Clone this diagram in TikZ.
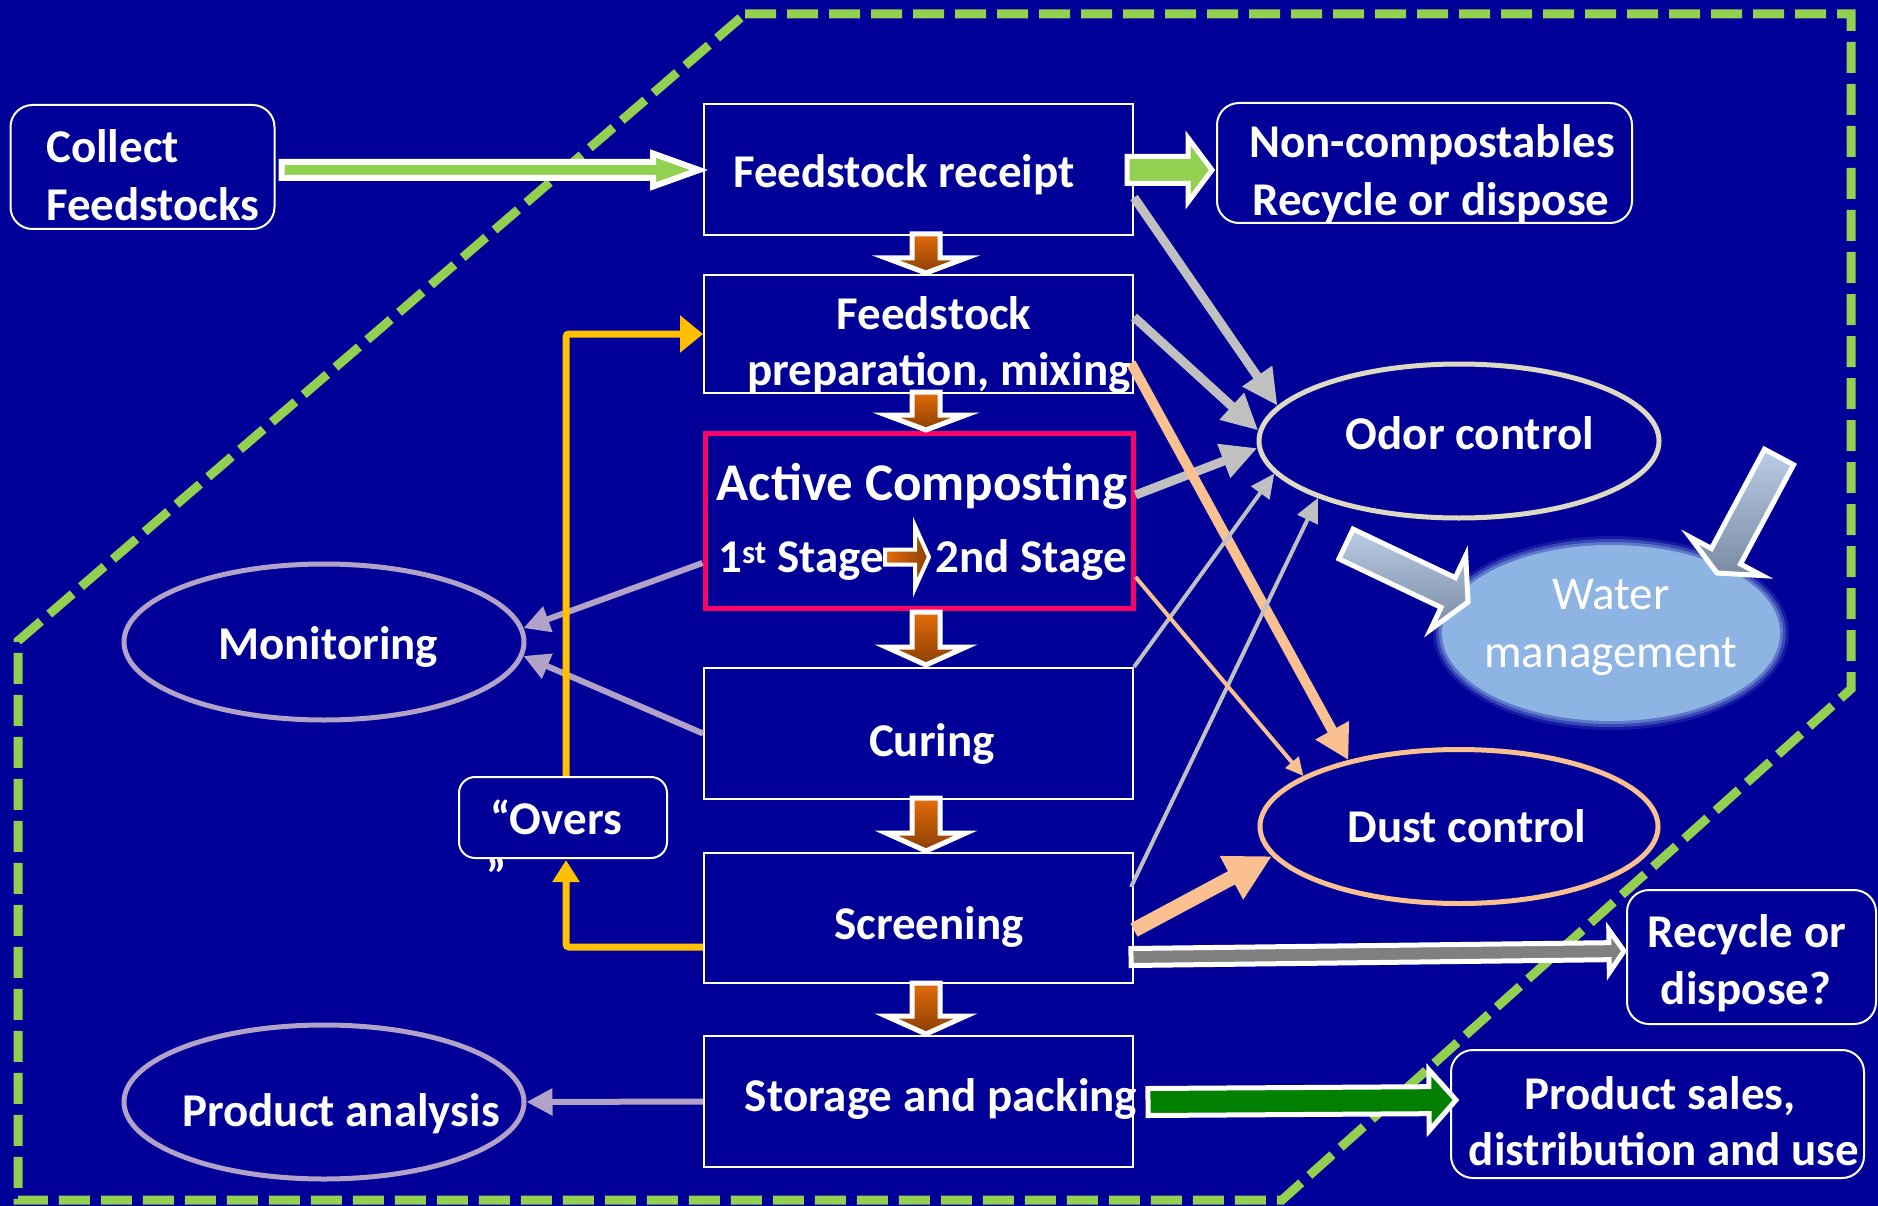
\documentclass[tikz,border=0pt]{standalone}
\usepackage{fontspec}
\setmainfont{Carlito}
\usetikzlibrary{arrows.meta,calc,shapes.geometric}
\definecolor{bg}{HTML}{000099}
\definecolor{lgreen}{HTML}{92D050}
\definecolor{dgreen}{HTML}{008000}
\definecolor{redb}{HTML}{FF0066}
\definecolor{cOran}{HTML}{E46C0A}
\definecolor{cBrown}{HTML}{8B3F06}
\definecolor{cOdor}{HTML}{DDD9C3}
\definecolor{cPeach}{HTML}{FAC090}
\definecolor{cLav}{HTML}{B3A2C7}
\definecolor{cGrayL}{HTML}{C0C0C0}
\definecolor{cYel}{HTML}{FFC000}
\definecolor{cGrayA}{HTML}{808080}
\definecolor{cWater}{HTML}{8EB4E3}
\definecolor{cWA1}{HTML}{B9CDE5}
\definecolor{cWA2}{HTML}{7A8AA3}
% block arrow: #1 style, #2 from, #3 to, #4 half shaft, #5 half head, #6 head length
\newcommand\blockarrow[6]{%
  \coordinate (baQ) at ($(#3)!#6!(#2)$);
  \draw[#1] ($(#2)!#4!90:(#3)$) -- ($(baQ)!#4!90:(#3)$) -- ($(baQ)!#5!90:(#3)$) -- (#3)
    -- ($(baQ)!#5!-90:(#3)$) -- ($(baQ)!#4!-90:(#3)$) -- ($(#2)!#4!-90:(#3)$) -- cycle;
}
\begin{document}
\begin{tikzpicture}[x=1pt,y=-1pt,
  sqbox/.style={draw=white, line width=2pt, fill=bg, inner sep=0pt},
  rbox/.style={sqbox, rounded corners=22pt},
  oval/.style={ellipse, line width=5pt, fill=bg, inner sep=0pt},
  lbl/.style={text=white, font=\bfseries\fontsize{47pt}{56pt}\selectfont, inner sep=0pt, anchor=base},
  gline/.style={draw=cGrayL, line width=9pt, -{Triangle[length=36pt,width=34pt]}},
  gthin/.style={draw=cGrayL, line width=4pt, -{Triangle[length=24pt,width=22pt]}},
  pthick/.style={draw=cPeach, line width=10pt, -{Triangle[length=34pt,width=36pt]}},
  pthin/.style={draw=cPeach, line width=4pt, -{Triangle[length=18pt,width=17pt]}},
  pfat/.style={draw=cPeach, line width=15pt, -{Triangle[length=46pt,width=46pt]}},
  lav/.style={draw=cLav, line width=6pt, -{Triangle[length=26pt,width=26pt]}},
  yel/.style={draw=cYel, line width=7pt, rounded corners=3pt},
  dashborder/.style={draw=lgreen, line width=9pt, dash pattern=on 31pt off 11pt},
  blkgreen/.style={draw=white, line width=6pt, fill=lgreen},
  blkgreen2/.style={draw=white, line width=5pt, fill=lgreen},
  blkdark/.style={draw=white, line width=5pt, fill=dgreen},
  blkgray/.style={draw=white, line width=5pt, fill=cGrayA},
  blkorange/.style={draw=white, line width=5pt, top color=cOran, bottom color=cBrown},
  blkstage/.style={draw=white, line width=4pt, left color=cOran, right color=cBrown},
  blkwater/.style={draw=white, line width=5pt, top color=cWA1, bottom color=cWA2}
]
\useasboundingbox (0,0) rectangle (1878,1206);
\fill[bg] (0,0) rectangle (1878,1206);

% dashed border
\draw[dashborder] (745,14) -- (1851,14) -- (1851,689) -- (1282,1200) -- (18,1200) -- (18,641) -- cycle;

% water management halo + node
\fill[cWater, opacity=0.15] (1611,633) ellipse [x radius=178, y radius=97];
\fill[cWater, opacity=0.3] (1611,633) ellipse [x radius=175, y radius=94];
\fill[cWater, opacity=0.45] (1611,633) ellipse [x radius=172, y radius=91];
\node[ellipse, fill=cWater, inner sep=0pt, minimum width=338pt, minimum height=176pt] (water) at (1611,633) {};

% boxes
\node[rbox, minimum width=264pt, minimum height=124pt] (collect) at (142.5,167) {};
\node[sqbox, minimum width=429pt, minimum height=131pt] (recv) at (918.5,169.5) {};
\node[rbox, minimum width=415pt, minimum height=120pt] (noncomp) at (1424.5,163) {};
\node[sqbox, minimum width=429pt, minimum height=118pt] (prep) at (918.5,334) {};
\node[sqbox, draw=redb, line width=5pt, minimum width=428pt, minimum height=175pt] (active) at (919,521) {};
\node[sqbox, minimum width=429pt, minimum height=131pt] (curing) at (918.5,733.5) {};
\node[sqbox, minimum width=429pt, minimum height=130pt] (screen) at (918.5,918) {};
\node[sqbox, minimum width=429pt, minimum height=131pt] (storage) at (918.5,1101.5) {};
\node[rbox, rounded corners=16pt, minimum width=208pt, minimum height=81pt] (overs) at (563,817.5) {};
\node[rbox, minimum width=249pt, minimum height=134pt] (recyc) at (1751.5,957) {};
\node[rbox, minimum width=413pt, minimum height=128pt] (sales) at (1657.5,1114) {};

% ellipses
\node[oval, draw=cLav, minimum width=400pt, minimum height=156pt] (monit) at (324,642) {};
\node[oval, draw=cLav, minimum width=400pt, minimum height=154pt] (prodan) at (324,1102) {};
\node[oval, draw=cOdor, minimum width=400pt, minimum height=154pt] (odor) at (1459,441) {};
\node[oval, draw=cPeach, minimum width=398pt, minimum height=154pt] (dust) at (1459,826.5) {};

% gray lines to odor control
\draw[gline] ($(recv.east)+(0,28)$) -- (odor.169);
\draw[gline] ($(prep.east)+(0,-17)$) -- (odor.177);
\draw[gline] ($(active.east)+(0,-26)$) -- (odor.182);
% peach lines to dust control
\draw[pthick] ($(prep.east)+(-3,29)$) -- (dust.149);
\draw[gthin] (curing.north east) -- (odor.190);
\draw[gthin] ($(screen.north east)+(-3,35)$) -- (odor.202);
\draw[pthin] ($(active.east)+(0,56)$) -- (dust.162);
\draw[pfat] ($(screen.east)+(0,12)$) -- (dust.189);

% lavender arrows to monitoring / product analysis
\draw[lav] ($(active.west)+(0,42)$) -- (monit.4);
\draw[lav] (curing.west) -- (monit.356);
\draw[lav] (storage.west) -- (prodan.east);

% yellow "overs" loop
\draw[yel, -{Triangle[length=22pt,width=26pt]}] ($(screen.west)+(0,29)$) -| ($(overs.south)+(3,1)$);
\draw[yel, -{Triangle[length=23pt,width=36pt]}] ($(overs.north)+(3,0)$) |- (prep.west);

% block arrows
\coordinate (a1s) at ($(collect.east)+(6,3)$);
\coordinate (a1e) at ($(recv.west)+(-4,0.5)$);
\blockarrow{blkgreen}{a1s}{a1e}{8pt}{16.5pt}{46pt}
\coordinate (a2s) at ($(recv.east)+(-7,0.5)$);
\coordinate (a2e) at ($(noncomp.west)+(-4,7)$);
\blockarrow{blkgreen2}{a2s}{a2e}{13.5pt}{32pt}{24pt}

\coordinate (o1s) at ($(recv.south)+(7.5,-2)$);
\coordinate (o1e) at ($(prep.north)+(7.5,-1)$);
\blockarrow{blkorange}{o1s}{o1e}{14pt}{40pt}{15pt}
\coordinate (o2s) at ($(prep.south)+(7.5,-2)$);
\coordinate (o2e) at ($(active.north)+(7,-1)$);
\blockarrow{blkorange}{o2s}{o2e}{14pt}{40pt}{15pt}
\coordinate (o3s) at ($(active.south)+(7,1)$);
\coordinate (o3e) at ($(curing.north)+(7.5,-2)$);
\blockarrow{blkorange}{o3s}{o3e}{14pt}{40pt}{18pt}
\coordinate (o4s) at ($(curing.south)+(7.5,-2)$);
\coordinate (o4e) at ($(screen.north)+(7.5,-1)$);
\blockarrow{blkorange}{o4s}{o4e}{14pt}{40pt}{18pt}
\coordinate (o5s) at ($(screen.south)+(7.5,-1)$);
\coordinate (o5e) at ($(storage.north)+(7.5,-1)$);
\blockarrow{blkorange}{o5s}{o5e}{14pt}{40pt}{18pt}

\coordinate (sts) at (885,557);
\coordinate (ste) at (929,557);
\blockarrow{blkstage}{sts}{ste}{7.5pt}{31pt}{14pt}

\coordinate (a3s) at ($(screen.east)+(-3,39)$);
\coordinate (a3e) at ($(recyc.west)+(-2,-6)$);
\blockarrow{blkgray}{a3s}{a3e}{8.5pt}{21.5pt}{15pt}
\coordinate (a4s) at ($(storage.east)+(14,0.5)$);
\coordinate (a4e) at ($(sales.west)+(6,-14)$);
\blockarrow{blkdark}{a4s}{a4e}{13.5pt}{30.5pt}{27pt}

\coordinate (w1s) at (1346,544);
\coordinate (w1e) at (1468,602);
\blockarrow{blkwater}{w1s}{w1e}{16.5pt}{41pt}{22pt}
\coordinate (w2s) at (1779,457);
\coordinate (w2e) at (1717,573);
\blockarrow{blkwater}{w2s}{w2e}{16.5pt}{41pt}{19pt}

% texts
\begin{scope}[shift={(0,2.5)}]
\node[lbl] (tRecv) at (904,185) {Feedstock receipt};
\node[lbl, anchor=base west] (tCol1) at (46,160) {Collect};
\node[lbl, anchor=base west] (tCol2) at (46,218) {Feedstocks};
\node[lbl] (tNc1) at (1432,155) {Non-compostables};
\node[lbl] (tNc2) at (1431,213) {Recycle or dispose};
\node[lbl] (tPr1) at (934,327) {Feedstock};
\node[lbl] (tPr2) at (939,383) {preparation, mixing};
\node[lbl, font=\bfseries\fontsize{53pt}{60pt}\selectfont] (tAc) at (922,498) {Active Composting};
\node[lbl, anchor=base west] (tSt1) at (718,570) {1\textsuperscript{st} Stage};
\node[lbl, anchor=base west] (tSt2) at (935,570) {2nd Stage};
\node[lbl] (tCu) at (932,754) {Curing};
\node[lbl] (tSc) at (929,937) {Screening};
\node[lbl] (tSp) at (941,1109) {Storage and packing};
\node[lbl] (tMo) at (328,657) {Monitoring};
\node[lbl] (tPa) at (341,1124) {Product analysis};
\node[lbl] (tOd) at (1470,447) {Odor control};
\node[lbl] (tDu) at (1467,840) {Dust control};
\node[lbl, font=\mdseries\fontsize{47pt}{56pt}\selectfont] (tWa1) at (1611,607) {Water};
\node[lbl, font=\mdseries\fontsize{47pt}{56pt}\selectfont] (tWa2) at (1611,665) {management};
\node[lbl] (tRe1) at (1747,945) {Recycle or};
\node[lbl] (tRe2) at (1746,1002) {dispose?};
\node[lbl] (tPs1) at (1660,1107) {Product sales,};
\node[lbl] (tPs2) at (1664,1163) {distribution and use};
\node[lbl] (tOv1) at (556,832) {“Overs};
\node[lbl] (tOv2) at (497,890) {”};
\end{scope}
\end{tikzpicture}
\end{document}
